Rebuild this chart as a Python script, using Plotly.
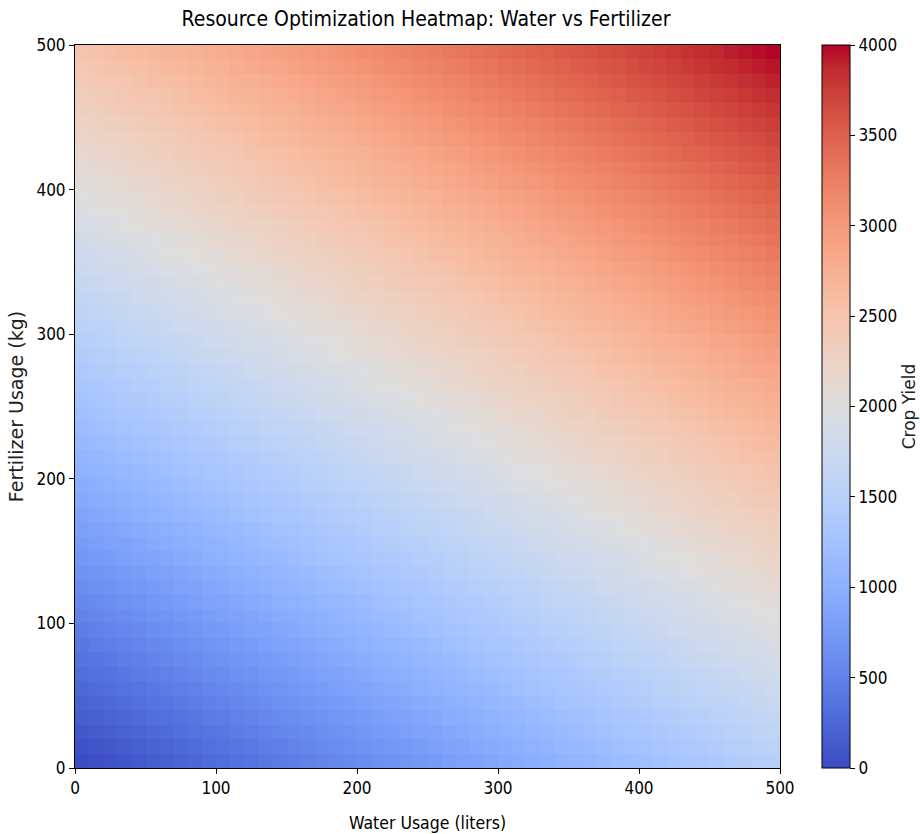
import plotly.graph_objects as go

# Cell edges along each axis (50 cells spanning 0..500)
water_edges = list(range(0, 501, 10))
fert_edges = list(range(0, 501, 10))

# Yield contribution read along the bottom row (fertilizer = 0), by water cell
water_gain = [0, 31, 61, 92, 122, 153, 184, 214, 245, 276, 306, 337, 367, 398, 429,
              459, 490, 520, 551, 582, 612, 643, 673, 704, 735, 765, 796, 827, 857,
              888, 918, 949, 980, 1010, 1041, 1071, 1102, 1133, 1163, 1194, 1224,
              1255, 1286, 1316, 1347, 1378, 1408, 1439, 1469, 1500]

# Yield contribution read along the left column (water = 0), by fertilizer cell
fert_gain = [0, 51, 102, 153, 204, 255, 306, 357, 408, 459, 510, 561, 612, 663, 714,
             765, 816, 867, 918, 969, 1020, 1071, 1122, 1173, 1224, 1276, 1327, 1378,
             1429, 1480, 1531, 1582, 1633, 1684, 1735, 1786, 1837, 1888, 1939, 1990,
             2041, 2092, 2143, 2194, 2245, 2296, 2347, 2398, 2449, 2500]

axis_ticks = [0, 100, 200, 300, 400, 500]
cbar_ticks = [0, 500, 1000, 1500, 2000, 2500, 3000, 3500, 4000]

crop_yield = [[fg + wg for wg in water_gain] for fg in fert_gain]

coolwarm = [
    (59, 76, 192), (68, 90, 204), (77, 104, 215), (87, 117, 225), (98, 130, 234),
    (108, 142, 241), (119, 154, 247), (130, 165, 251), (141, 176, 254),
    (152, 185, 255), (163, 194, 255), (174, 201, 253), (184, 208, 249),
    (194, 213, 244), (204, 217, 238), (213, 219, 230), (221, 221, 221),
    (229, 216, 209), (236, 211, 197), (241, 204, 185), (245, 196, 173),
    (247, 187, 160), (247, 177, 148), (247, 166, 135), (244, 154, 123),
    (241, 141, 111), (236, 127, 99), (229, 112, 88), (222, 96, 77),
    (213, 80, 66), (203, 62, 56), (192, 40, 47), (180, 4, 38)]
n = len(coolwarm) - 1
colorscale = [[i / n, "rgb(%d,%d,%d)" % c] for i, c in enumerate(coolwarm)]

cond = "DejaVu Sans Condensed, Liberation Sans Narrow, DejaVu Sans"
reg = "DejaVu Sans"

fig = go.Figure(go.Heatmap(
    z=crop_yield, x=water_edges, y=fert_edges,
    colorscale=colorscale, zmin=0, zmax=4000, zsmooth=False,
    colorbar=dict(
        x=(822 - 75) / 705, xanchor="left", xpad=0, y=0, yanchor="bottom", ypad=0,
        len=1, lenmode="fraction", thickness=28, thicknessmode="pixels",
        outlinecolor="black", outlinewidth=1,
        tickvals=cbar_ticks, ticks="outside", ticklen=5, tickcolor="black",
        tickfont=dict(family=cond, size=17, color="black"),
        title=dict(text="Crop Yield", side="right",
                   font=dict(family=reg, size=17, color="#222"),),
    ),
))

fig.update_layout(
    width=920, height=834,
    margin=dict(l=75, r=140, t=45, b=66, autoexpand=False),
    paper_bgcolor="white", plot_bgcolor="white",
    title=dict(text="Resource Optimization Heatmap: Water vs Fertilizer",
               x=426 / 920, xanchor="center", y=1 - 19 / 834, yanchor="middle",
               automargin=False,
               font=dict(family=cond, size=21, color="black")),
    xaxis=dict(range=[0, 500], tickvals=axis_ticks, ticks="outside", ticklen=5,
               tickcolor="black", showline=True, linecolor="black", linewidth=1,
               mirror=True, showgrid=False, zeroline=False,
               tickfont=dict(family=cond, size=17, color="black"),
               title=dict(text="Water Usage (liters)", standoff=19,
                          font=dict(family=cond, size=17.5, color="black"))),
    yaxis=dict(range=[0, 500], tickvals=axis_ticks, ticks="outside", ticklen=5,
               tickcolor="black", showline=True, linecolor="black", linewidth=1,
               mirror=True, showgrid=False, zeroline=False,
               tickfont=dict(family=cond, size=17, color="black"),
               title=dict(text="Fertilizer Usage (kg)", standoff=7,
                          font=dict(family=reg, size=19, color="#222"))),
)

fig.write_html(
    "out.html",
    config={"displayModeBar": False},
    post_script="document.body.style.margin='0';document.body.style.overflow='hidden';",
)
